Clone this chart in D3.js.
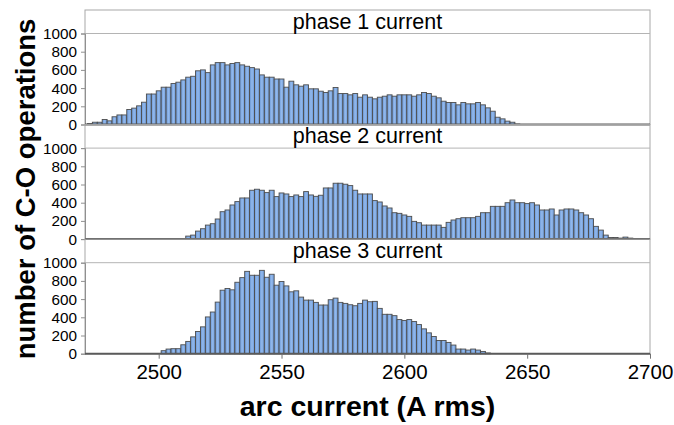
<!DOCTYPE html>
<html>
<head>
<meta charset="utf-8">
<script src="https://cdn.jsdelivr.net/npm/d3@7"></script>
<style>
  body { margin: 0; background: #fff; }
  text { font-family: "Liberation Sans", Arial, sans-serif; }
</style>
</head>
<body>
<div id="chart"></div>
<script>
// histogram bins are 2 A wide; each series lists its counts from its first bin on
const binWidth = 2;
const panelTitles = ["phase 1 current", "phase 2 current", "phase 3 current"];
const firstBins = [2471, 2511, 2501];

const phase1 = [10,25,25,55,40,85,105,105,165,180,
  205,245,335,335,370,410,410,450,465,490,
  520,530,590,600,570,655,680,680,655,670,
  680,655,640,625,610,545,520,520,500,500,
  410,476,436,421,436,392,392,366,352,370,
  407,340,340,326,340,300,326,300,282,300,
  311,326,311,326,326,326,311,326,352,340,
  311,293,256,242,242,216,242,227,227,242,
  216,183,146,80,62,37,25,5];

const phase2 = [33,44,88,114,154,169,221,301,320,375,
  412,452,452,537,548,537,511,537,467,507,
  496,467,485,467,522,485,470,482,562,562,
  614,614,603,588,537,496,496,496,423,408,
  364,342,290,283,265,250,195,180,154,154,
  154,154,129,184,210,224,235,235,235,250,
  290,290,360,360,360,400,430,400,400,390,
  400,375,320,320,331,265,320,331,331,320,
  290,265,224,140,99,44,18,18,11,22,
  11,5];

const phase3 = [33,51,55,55,98,135,185,244,295,404,
  458,567,698,716,702,785,836,905,862,862,
  916,840,873,753,793,745,680,691,622,589,
  589,564,535,535,593,611,564,553,538,527,
  553,589,571,575,498,433,433,418,375,364,
  375,353,320,273,229,189,145,145,124,95,
  51,51,40,51,40,25,8];

const yTicks = [0, 200, 400, 600, 800, 1000];
const xTicks = [2500, 2550, 2600, 2650, 2700];

const series = [phase1, phase2, phase3].map((vals, k) => ({
  title: panelTitles[k],
  bins: vals.map((v, i) => ({ x0: firstBins[k] + i * binWidth, value: v }))
}));

const width = 674;
const height = 425;
const margin = { top: 10, left: 85, right: 24 };
const stripH = 23.5;
const plotH = 91;
const pitch = 114.6;

const svg = d3.select("#chart")
  .append("svg")
  .attr("width", width)
  .attr("height", height);

const defs = svg.append("defs");
const grad = defs.append("linearGradient").attr("id", "barFill")
  .attr("x1", "0%").attr("x2", "100%").attr("y1", "0%").attr("y2", "0%");
grad.append("stop").attr("offset", "0%").attr("stop-color", "#6a98d8");
grad.append("stop").attr("offset", "50%").attr("stop-color", "#93b9ec");
grad.append("stop").attr("offset", "100%").attr("stop-color", "#6a98d8");

const x = d3.scaleLinear()
  .domain([2470, 2700])
  .range([margin.left, width - margin.right]);

series.forEach((s, k) => {
  const top = margin.top + k * pitch;
  const y = d3.scaleLinear()
    .domain([0, 1000])
    .range([top + stripH + plotH, top + stripH]);

  const g = svg.append("g");

  // panel frame and title strip
  g.append("rect")
    .attr("x", margin.left).attr("y", top)
    .attr("width", width - margin.right - margin.left)
    .attr("height", stripH + plotH)
    .attr("fill", "none").attr("stroke", "#a8a8a8");
  g.append("line")
    .attr("x1", margin.left).attr("x2", width - margin.right)
    .attr("y1", y(1000)).attr("y2", y(1000))
    .attr("stroke", "#b4b4b4");
  g.append("text")
    .attr("x", (margin.left + width - margin.right) / 2)
    .attr("y", top + stripH - 5)
    .attr("text-anchor", "middle")
    .attr("font-size", "21.5px")
    .attr("fill", "#000")
    .text(s.title);

  // bars
  g.append("g")
    .selectAll("rect")
    .data(s.bins)
    .join("rect")
      .attr("x", d => x(d.x0))
      .attr("y", d => y(d.value))
      .attr("width", x(2470 + binWidth) - x(2470))
      .attr("height", d => y(0) - y(d.value))
      .attr("fill", "url(#barFill)")
      .attr("stroke", "#4d4d4d")
      .attr("stroke-width", 0.9);

  // y axis
  g.append("g")
    .attr("transform", `translate(${margin.left},0)`)
    .call(d3.axisLeft(y).tickValues(yTicks).tickSize(4).tickPadding(4).tickFormat(d3.format("d")))
    .call(a => a.select(".domain").attr("stroke", "#909090"))
    .call(a => a.selectAll(".tick line").attr("stroke", "#909090"))
    .call(a => a.selectAll(".tick text")
      .attr("font-size", "15.3px")
      .attr("fill", "#000")
      .attr("font-family", "Liberation Sans, Arial, sans-serif"));

  // zero line
  g.append("line")
    .attr("x1", margin.left).attr("x2", width - margin.right)
    .attr("y1", y(0)).attr("y2", y(0))
    .attr("stroke", "#5a5a5a").attr("stroke-width", 2);

  if (k === 2) {
    g.append("g")
      .attr("transform", `translate(0,${y(0)})`)
      .call(d3.axisBottom(x).tickValues(xTicks).tickSize(5).tickPadding(6).tickFormat(d3.format("d")))
      .call(a => a.select(".domain").remove())
      .call(a => a.selectAll(".tick line").attr("stroke", "#707070"))
      .call(a => a.selectAll(".tick text")
        .attr("font-size", "20.5px")
        .attr("fill", "#000")
        .attr("font-family", "Liberation Sans, Arial, sans-serif"));
  }
});

svg.append("text")
  .attr("x", (margin.left + width - margin.right) / 2)
  .attr("y", 416)
  .attr("text-anchor", "middle")
  .attr("font-size", "28.5px")
  .attr("font-weight", "bold")
  .text("arc current (A rms)");

svg.append("text")
  .attr("transform", "translate(35,189) rotate(-90)")
  .attr("text-anchor", "middle")
  .attr("font-size", "27.5px")
  .attr("font-weight", "bold")
  .text("number of C-O operations");
</script>
</body>
</html>
